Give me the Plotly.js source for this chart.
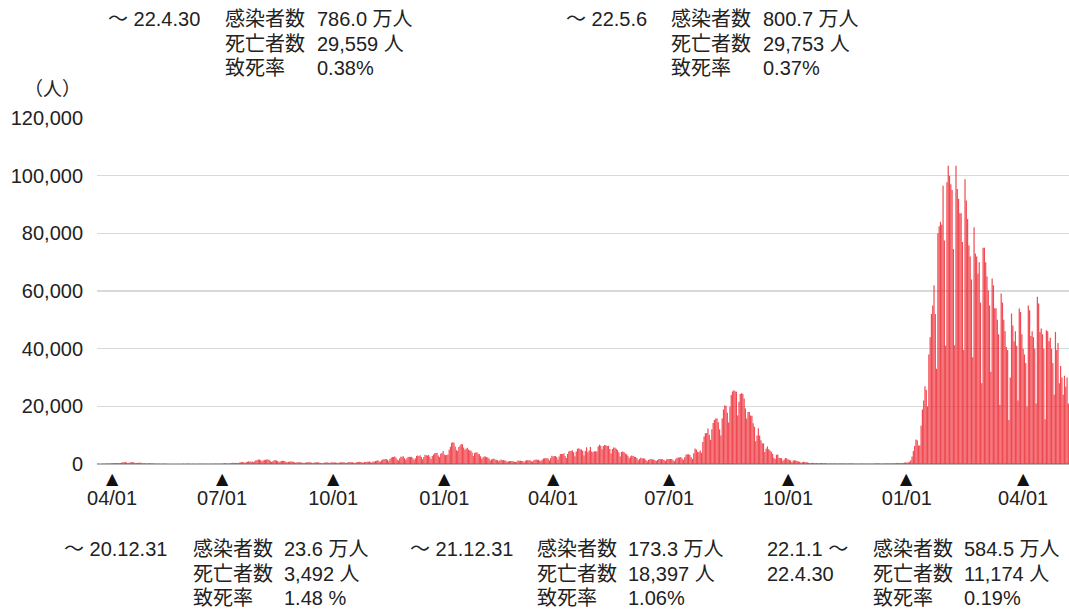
<!DOCTYPE html>
<html><head><meta charset="utf-8">
<script src="https://cdn.plot.ly/plotly-3.0.1.min.js"></script>
<style>html,body{margin:0;padding:0;background:#fff;}#chart{width:1069px;height:609px;}</style>
</head><body><div id="chart"></div>
<script>
// ---- data (daily new cases, people) ----
const startDate = '2020-03-20';
const cases2020 = [
53,40,41,38,66,96,93,112,201,164,88,220,
265,246,270,370,360,376,252,351,511,579,644,714,507,281,457,549,574,585,568,382,348,378,437,442,447,299,199,256,200,161,
167,294,193,218,171,96,122,84,113,61,38,92,56,54,69,40,19,33,28,35,25,27,33,22,21,30,40,31,41,53,37,
33,44,56,48,40,33,44,37,40,40,43,45,48,47,72,42,44,43,69,43,57,48,38,55,73,105,92,100,86,124,
109,140,248,274,207,127,207,192,350,430,386,407,260,331,448,623,595,664,509,420,633,795,981,778,841,861,596,981,1264,1301,1580,
1536,1331,973,1236,1354,1485,1595,1567,1445,1047,700,970,1177,1360,1227,1032,642,909,1000,1175,1037,1001,731,513,740,901,890,826,773,560,431,
596,585,590,520,548,422,284,508,528,638,651,611,438,255,525,514,583,608,545,411,354,296,263,478,562,645,476,294,519,583,
563,512,534,400,287,493,499,613,634,590,435,295,622,579,725,628,630,446,317,610,580,673,745,733,516,412,702,702,798,773,862,
647,540,865,763,1046,1138,1304,946,742,1285,1546,1658,1703,1723,1435,954,1696,2201,2386,2426,2596,2169,1522,1227,1945,2501,2505,2684,2065,1436,
2032,2431,2517,2439,2512,2025,1509,2029,2812,2965,2776,3041,2387,1680,2402,3211,3051,2967,3153,2497,1772,2751,3272,3740,3823,3881,2939,2396,3586,3852,4520
];
const cases2021 = [
3256,3058,3128,3323,4915,6001,7370,7549,7387,6091,4870,4537,5874,6404,6933,6840,5760,4927,5320,5653,5043,4711,4675,3983,2754,3852,3963,4115,3538,3343,2673,
1791,2322,2630,2575,2364,2279,1883,1229,1569,1767,1882,1575,1452,1359,951,1306,1539,1316,1393,1205,1088,740,863,1065,1076,1004,987,808,
696,910,1217,1118,1164,1065,1046,591,1128,1313,1311,1322,1324,1056,804,1310,1510,1535,1468,1485,1118,1114,1514,1917,1990,1997,2098,1781,1245,2084,2843,
2608,2761,2765,2471,1575,2642,3448,3449,3452,3697,2778,2097,3454,4312,4574,4532,4801,4093,2698,4334,5292,5499,5119,5018,4595,2914,4505,5788,4084,4669,
5947,4332,4108,4415,4403,4305,6051,6700,6290,5079,6242,6554,6473,6267,6317,5240,3675,5227,5727,5671,5255,4839,4104,2596,4167,4353,4119,3647,3411,2880,1952,
2638,2952,2750,2531,2425,2092,1300,1790,2159,1967,1930,1932,1390,933,1445,1677,1758,1540,1591,1307,1015,1423,1758,1757,1651,1605,1390,1033,1574,1767,
1760,1737,1732,1281,987,1637,2190,2230,2262,2393,1899,1434,2384,3187,3422,3418,3101,2327,1796,3757,5394,5011,4223,4058,4692,3888,7625,9577,10687,10744,12341,
10176,8381,12026,14207,15263,15812,15753,14472,12074,9926,15810,18889,20366,20144,17761,14435,19874,23910,25156,25592,25274,25089,16802,21577,24297,24569,24300,22757,19294,15748,18016,
18021,16786,16760,14093,12906,7885,9876,12400,9922,8223,7221,7124,4169,5269,6055,5098,4721,4254,3542,2210,1774,3155,3273,2171,2116,1978,1128,1584,2083,1986,
1575,1445,1239,621,1198,1297,1193,1044,892,788,417,645,783,719,623,566,429,233,388,466,347,297,315,263,154,310,359,277,278,283,202,
86,157,165,200,168,169,160,107,132,215,200,197,185,133,73,131,143,155,147,160,116,50,81,77,127,122,135,102,71,90,
124,117,111,130,98,98,148,152,148,193,149,124,114,142,152,186,184,201,133,165,208,250,280,264,391,270,278,321,381,518,502
];
const cases2022 = [
534,553,781,1265,2638,4475,6214,8480,8249,6438,6377,13244,18860,22045,27000,25630,20000,38000,44000,52000,55000,62000,52000,33000,80000,82500,84000,83000,96500,77500,41000,
97700,103400,100000,97000,95000,74600,41200,103400,95400,92000,87000,87000,77000,39500,98800,91400,85000,75800,72000,64000,37000,82100,73000,72000,66000,70000,56000,28000,
75000,75000,70000,65000,60200,55000,32000,64300,62000,54000,54000,50000,45000,20500,59100,56000,50000,46000,40600,39500,15300,30000,52200,48000,42500,46000,41000,22000,53900,52700,45000,
40000,38000,35000,19900,55000,53300,44400,46000,44000,40000,21000,58000,55700,45800,47000,45000,40000,15500,46400,46000,42600,43800,40000,35000,24000,45800,39500,42000,28000,34000,
30000,24000,30600,26800,30000,21000
];
const splitDate = '2021-04-18';
const tickDates1 = ['2020-04-01','2020-07-01','2020-10-01','2021-01-01','2021-04-01'];
const tickText1  = ['04/01','07/01','10/01','01/01','04/01'];
const tickDates2 = ['2021-07-01','2021-10-01','2022-01-01','2022-04-01'];
const tickText2  = ['07/01','10/01','01/01','04/01'];
const yTicks = [0,20000,40000,60000,80000,100000,120000];
const unitLabel = '（人）';
const statLabels = ['感染者数','死亡者数','致死率'];
const periodLabels = ['～ 22.4.30','～ 22.5.6','～ 20.12.31','～ 21.12.31','22.1.1 ～<br>22.4.30'];
const infected = ['786.0 万人','800.7 万人','23.6 万人','173.3 万人','584.5 万人'];
const deaths   = ['29,559 人','29,753 人','3,492 人','18,397 人','11,174 人'];
const fatality = ['0.38%','0.37%','1.48 %','1.06%','0.19%'];

// ---- build series ----
const allCases = cases2020.concat(cases2021, cases2022);
const t0 = Date.UTC(2020, 2, 20);
const allDates = allCases.map((_, i) => new Date(t0 + i * 86400000).toISOString().slice(0, 10));
const x1 = [], y1 = [], x2 = [], y2 = [];
allDates.forEach((d, i) => {
  if (d < splitDate) { x1.push(d); y1.push(allCases[i]); }
  else { x2.push(d); y2.push(allCases[i]); }
});

// ---- layout geometry ----
const W = 1069, H = 609, L = 97, R = 0, T = 118, B = 145;
const plotW = W - L - R, plotH = H - T - B;
const seamPx = 573;
const split = (seamPx - L) / plotW;
const px = v => (v - L) / plotW;
const py = v => (H - B - v) / plotH;

const FONT = 'Liberation Sans, Arial, Noto Sans CJK JP, sans-serif';
const barColor = 'rgba(237,45,55,0.86)';

const traces = [
  {type: 'bar', x: x1, y: y1, xaxis: 'x', yaxis: 'y', marker: {color: barColor, line: {width: 0}}, hoverinfo: 'x+y'},
  {type: 'bar', x: x2, y: y2, xaxis: 'x2', yaxis: 'y', marker: {color: barColor, line: {width: 0}}, hoverinfo: 'x+y'}
];

const annotations = [];
function addText(text, xpx, ypx, size) {
  annotations.push({xref: 'paper', yref: 'paper', x: px(xpx), y: py(ypx), xanchor: 'left', yanchor: 'middle',
    text: text, showarrow: false, align: 'left', borderpad: 0,
    font: {family: FONT, size: size || 20, color: '#222'}});
}
// summary blocks: [period x, label x, value x, first line y]
const blockPos = [[107,224,316,19],[565,670,762,19],[63,192,283,549],[409,536,627,549],[766,872,963,549]];
blockPos.forEach((p, i) => {
  const lines = periodLabels[i].split('<br>');
  lines.forEach((ln, j) => addText(ln, p[0], p[3] + j * 24.5));
  const vals = [infected[i], deaths[i], fatality[i]];
  statLabels.forEach((s, j) => {
    addText(s, p[1], p[3] + j * 24.5);
    addText(vals[j], p[2], p[3] + j * 24.5);
  });
});
annotations.push({xref: 'paper', yref: 'paper', x: px(52), y: py(89), xanchor: 'center', yanchor: 'middle',
  text: unitLabel, showarrow: false, font: {family: FONT, size: 19, color: '#222'}});
// tick triangles
function tri(xref, d) {
  annotations.push({xref: xref, yref: 'paper', x: d, y: py(478), xanchor: 'center', yanchor: 'middle',
    text: '▲', showarrow: false, borderpad: 0, font: {family: 'DejaVu Sans', size: 16, color: '#111'}});
}
tickDates1.forEach(d => tri('x', d));
tickDates2.forEach(d => tri('x2', d));

const xCommon = {type: 'date', showgrid: false, zeroline: false, showline: false,
  ticks: 'outside', ticklen: 16, tickcolor: 'rgba(0,0,0,0)', tickfont: {family: FONT, size: 20, color: '#222'}, fixedrange: true};

const layout = {
  width: W, height: H,
  margin: {l: L, r: R, t: T, b: B, pad: 0},
  paper_bgcolor: '#fff', plot_bgcolor: '#fff',
  showlegend: false, bargap: 0.06,
  font: {family: FONT, color: '#222'},
  xaxis: Object.assign({}, xCommon, {domain: [0, split], anchor: 'y',
    range: ['2020-03-19 12:00', '2021-04-17 12:00'], tickvals: tickDates1, ticktext: tickText1}),
  xaxis2: Object.assign({}, xCommon, {domain: [split, 1], anchor: 'y',
    range: ['2021-04-17 12:00', '2022-05-06 12:00'], tickvals: tickDates2, ticktext: tickText2}),
  yaxis: {range: [0, 120000], tickvals: yTicks, tickformat: ',d', showgrid: true, gridcolor: '#d9d9d9', gridwidth: 1.6,
    zeroline: true, zerolinecolor: '#b4b4b4', zerolinewidth: 2, showline: false,
    ticks: 'outside', ticklen: 9, tickcolor: 'rgba(0,0,0,0)',
    tickfont: {family: FONT, size: 20, color: '#222'}, fixedrange: true},
  annotations: annotations
};

Plotly.newPlot('chart', traces, layout, {displayModeBar: false, staticPlot: true});
</script>
</body></html>
